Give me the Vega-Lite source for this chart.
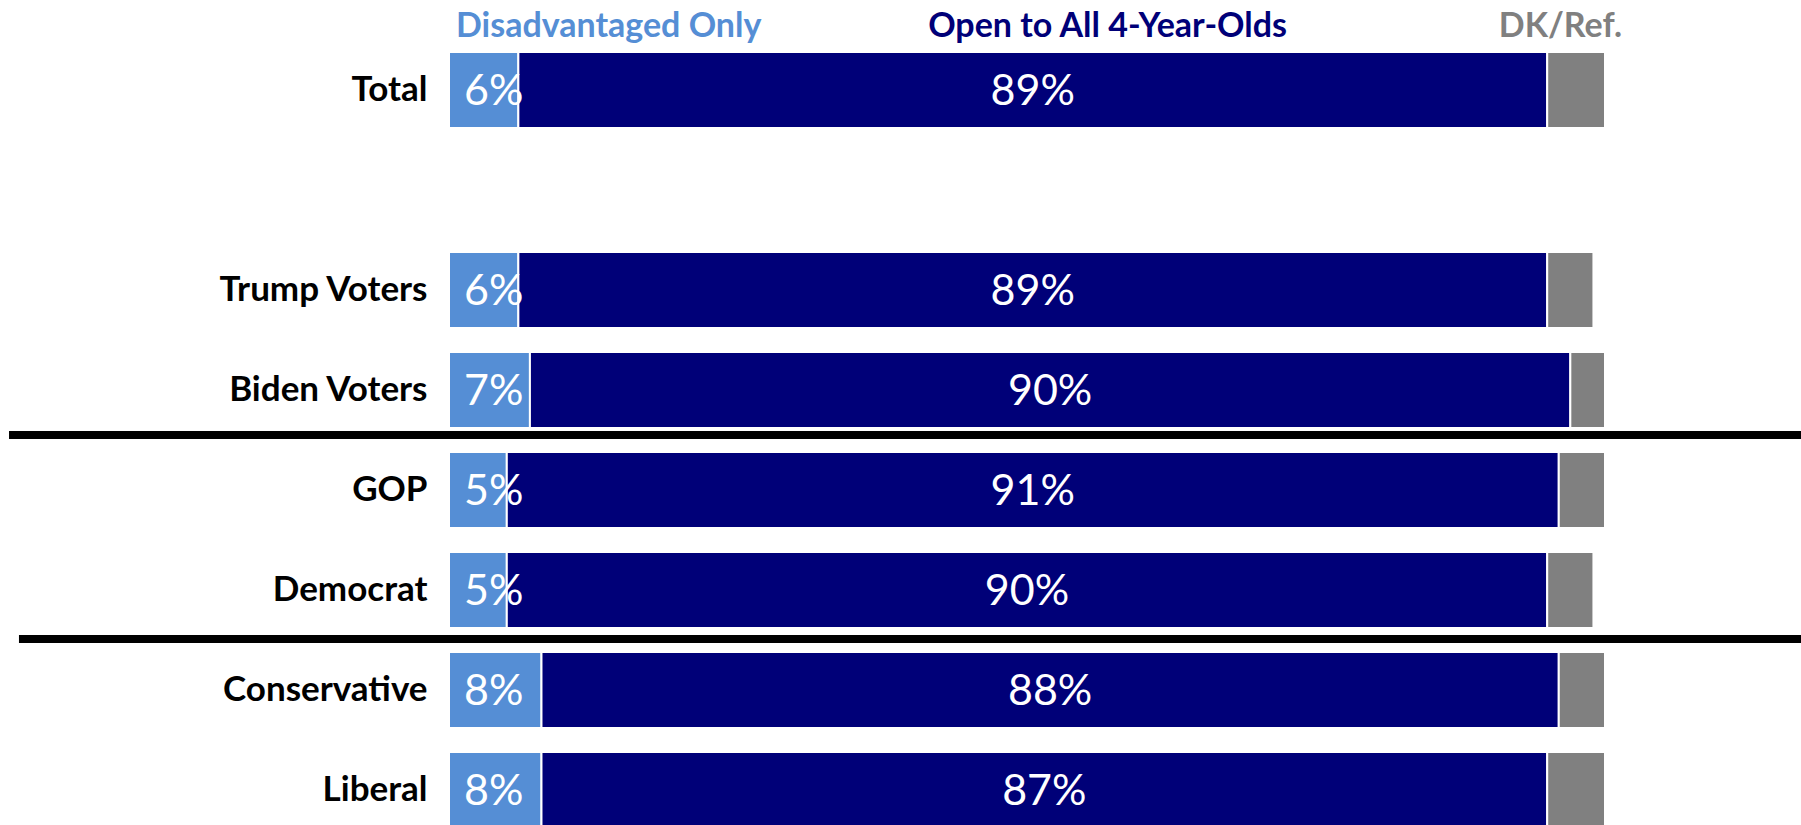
{
  "$schema": "https://vega.github.io/schema/vega-lite/v6.json",
  "width": 1156,
  "height": 785,
  "autosize": {"type": "none"},
  "padding": {"left": 449, "top": 40, "right": 196, "bottom": 0},
  "background": "white",
  "config": {"view": {"stroke": null}, "font": "Lato"},
  "datasets": {
    "bars": [
      {"group": "Total", "response": "Disadvantaged Only", "k": 1, "value": 0.06},
      {"group": "Total", "response": "Open to All 4-Year-Olds", "k": 2, "value": 0.89},
      {"group": "Total", "response": "DK/Ref.", "k": 3, "value": 0.05},
      {"group": "Trump Voters", "response": "Disadvantaged Only", "k": 1, "value": 0.06},
      {"group": "Trump Voters", "response": "Open to All 4-Year-Olds", "k": 2, "value": 0.89},
      {"group": "Trump Voters", "response": "DK/Ref.", "k": 3, "value": 0.04},
      {"group": "Biden Voters", "response": "Disadvantaged Only", "k": 1, "value": 0.07},
      {"group": "Biden Voters", "response": "Open to All 4-Year-Olds", "k": 2, "value": 0.90},
      {"group": "Biden Voters", "response": "DK/Ref.", "k": 3, "value": 0.03},
      {"group": "GOP", "response": "Disadvantaged Only", "k": 1, "value": 0.05},
      {"group": "GOP", "response": "Open to All 4-Year-Olds", "k": 2, "value": 0.91},
      {"group": "GOP", "response": "DK/Ref.", "k": 3, "value": 0.04},
      {"group": "Democrat", "response": "Disadvantaged Only", "k": 1, "value": 0.05},
      {"group": "Democrat", "response": "Open to All 4-Year-Olds", "k": 2, "value": 0.90},
      {"group": "Democrat", "response": "DK/Ref.", "k": 3, "value": 0.04},
      {"group": "Conservative", "response": "Disadvantaged Only", "k": 1, "value": 0.08},
      {"group": "Conservative", "response": "Open to All 4-Year-Olds", "k": 2, "value": 0.88},
      {"group": "Conservative", "response": "DK/Ref.", "k": 3, "value": 0.04},
      {"group": "Liberal", "response": "Disadvantaged Only", "k": 1, "value": 0.08},
      {"group": "Liberal", "response": "Open to All 4-Year-Olds", "k": 2, "value": 0.87},
      {"group": "Liberal", "response": "DK/Ref.", "k": 3, "value": 0.05}
    ],
    "headers": [
      {"response": "Disadvantaged Only"},
      {"response": "Open to All 4-Year-Olds"},
      {"response": "DK/Ref."}
    ]
  },
  "encoding": {
    "y": {
      "field": "group",
      "type": "nominal",
      "scale": {
        "domain": ["Total", " ", "Trump Voters", "Biden Voters", "GOP", "Democrat", "Conservative", "Liberal"],
        "range": [0, 800],
        "paddingInner": 0.24,
        "paddingOuter": 0.12
      },
      "axis": {
        "title": null,
        "ticks": false,
        "domain": false,
        "labelPadding": 22,
        "labelFont": "Lato",
        "labelFontWeight": "bold",
        "labelFontSize": 35,
        "labelColor": "black",
        "labelLimit": 420
      }
    }
  },
  "layer": [
    {
      "data": {"name": "bars"},
      "mark": {"type": "bar", "stroke": "white", "strokeWidth": 2},
      "encoding": {
        "x": {"field": "value", "type": "quantitative", "stack": "zero", "scale": {"domain": [0, 1], "nice": false, "zero": true}, "axis": null},
        "color": {
          "field": "response",
          "type": "nominal",
          "scale": {"domain": ["Disadvantaged Only", "Open to All 4-Year-Olds", "DK/Ref."], "range": ["#558ED5", "#000078", "#808080"]},
          "legend": null
        },
        "order": {"field": "k", "type": "quantitative"}
      }
    },
    {
      "data": {"name": "bars"},
      "mark": {"type": "text", "align": "left", "baseline": "middle", "dx": 15, "dy": 2, "fontSize": 43, "font": "Lato", "color": "white"},
      "encoding": {
        "x": {"field": "value", "type": "quantitative", "stack": "zero", "bandPosition": 0},
        "detail": {"field": "response"},
        "order": {"field": "k", "type": "quantitative"},
        "text": {"field": "value", "type": "quantitative", "format": ".0%"},
        "opacity": {"condition": {"test": "datum.k === 1", "value": 1}, "value": 0}
      }
    },
    {
      "data": {"name": "bars"},
      "mark": {"type": "text", "align": "center", "baseline": "middle", "dy": 2, "fontSize": 43, "font": "Lato", "color": "white"},
      "encoding": {
        "x": {"field": "value", "type": "quantitative", "stack": "zero", "bandPosition": 0.5},
        "detail": {"field": "response"},
        "order": {"field": "k", "type": "quantitative"},
        "text": {"field": "value", "type": "quantitative", "format": ".0%"},
        "opacity": {"condition": {"test": "datum.k === 2", "value": 1}, "value": 0}
      }
    },
    {
      "data": {"name": "headers"},
      "transform": [{"filter": "datum.response === 'Disadvantaged Only'"}],
      "mark": {"type": "text", "align": "left", "baseline": "alphabetic", "dx": 7, "dy": -53, "fontSize": 34, "font": "Lato", "fontWeight": "bold"},
      "encoding": {
        "x": {"datum": 0},
        "y": {"datum": "Total"},
        "text": {"field": "response"},
        "color": {"field": "response", "type": "nominal", "legend": null}
      }
    },
    {
      "data": {"name": "headers"},
      "transform": [{"filter": "datum.response === 'Open to All 4-Year-Olds'"}],
      "mark": {"type": "text", "align": "center", "baseline": "alphabetic", "dy": -53, "fontSize": 34, "font": "Lato", "fontWeight": "bold"},
      "encoding": {
        "x": {"datum": 0.5697},
        "y": {"datum": "Total"},
        "text": {"field": "response"},
        "color": {"field": "response", "type": "nominal", "legend": null}
      }
    },
    {
      "data": {"name": "headers"},
      "transform": [{"filter": "datum.response === 'DK/Ref.'"}],
      "mark": {"type": "text", "align": "right", "baseline": "alphabetic", "dy": -53, "fontSize": 34, "font": "Lato", "fontWeight": "bold"},
      "encoding": {
        "x": {"datum": 1.0147},
        "y": {"datum": "Total"},
        "text": {"field": "response"},
        "color": {"field": "response", "type": "nominal", "legend": null}
      }
    },
    {
      "data": {"values": [{"after": "Biden Voters"}]},
      "mark": {"type": "rule", "color": "black", "strokeWidth": 8, "yOffset": 45},
      "encoding": {
        "y": {"field": "after", "type": "nominal"},
        "x": {"datum": -0.3806},
        "x2": {"datum": 1.17}
      }
    },
    {
      "data": {"values": [{"after": "Democrat"}]},
      "mark": {"type": "rule", "color": "black", "strokeWidth": 8, "yOffset": 49},
      "encoding": {
        "y": {"field": "after", "type": "nominal"},
        "x": {"datum": -0.372},
        "x2": {"datum": 1.17}
      }
    }
  ]
}
